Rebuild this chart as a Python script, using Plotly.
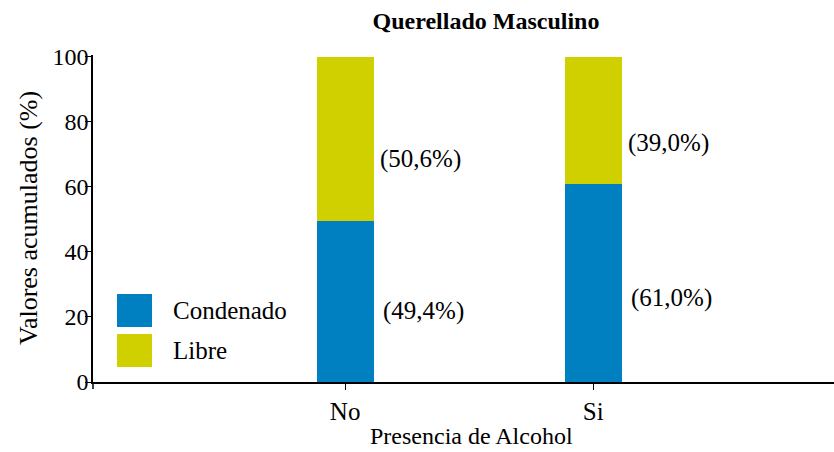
import plotly.graph_objects as go

categories = ["No", "Si"]
condenado = [49.4, 61.0]
libre = [50.6, 39.0]
condenado_labels = ["(49,4%)", "(61,0%)"]
libre_labels = ["(50,6%)", "(39,0%)"]
condenado_label_y = [21.7, 25.7]
libre_label_y = [68.5, 73.4]
y_ticks = [0, 20, 40, 60, 80, 100]

BLUE = "rgb(0,128,192)"
YELLOW = "rgb(208,207,0)"
FONT = "Liberation Serif"

W, H = 834, 452
ML, MR, MT, MB = 93, 0, 55, 70
PW, PH = W - ML - MR, H - MT - MB

fig = go.Figure()
fig.add_trace(go.Bar(x=[0, 1], y=condenado, name="Condenado", marker=dict(color=BLUE, line=dict(width=0)), width=0.23))
fig.add_trace(go.Bar(x=[0, 1], y=libre, name="Libre", marker=dict(color=YELLOW, line=dict(width=0)), width=0.23))

for i in range(len(categories)):
    fig.add_annotation(x=i, y=libre_label_y[i], text=libre_labels[i], xref="x", yref="y",
                       xanchor="left", yanchor="middle", xshift=33, showarrow=False,
                       font=dict(family=FONT, size=25, color="black"))
    fig.add_annotation(x=i, y=condenado_label_y[i], text=condenado_labels[i], xref="x", yref="y",
                       xanchor="left", yanchor="middle", xshift=36, showarrow=False,
                       font=dict(family=FONT, size=25, color="black"))

def px_x(p):
    return (p - ML) / PW
def px_y(p):
    return (MT + PH - p) / PH

# legend drawn manually
legend_items = [("Condenado", BLUE, 294, 327), ("Libre", YELLOW, 334, 367)]
for name, col, y0, y1 in legend_items:
    fig.add_shape(type="rect", xref="paper", yref="paper", x0=px_x(117), x1=px_x(152),
                  y0=px_y(y1), y1=px_y(y0), fillcolor=col, line=dict(width=0), layer="above")
    fig.add_annotation(x=px_x(171), y=px_y((y0 + y1) / 2), xref="paper", yref="paper", text=name,
                       xanchor="left", yanchor="middle", showarrow=False,
                       font=dict(family=FONT, size=25, color="black"))

# axis titles
fig.add_annotation(x=px_x(28), y=px_y(218), xref="paper", yref="paper", text="Valores acumulados (%)",
                   textangle=-90, xanchor="center", yanchor="middle", showarrow=False,
                   font=dict(family=FONT, size=26, color="black"))
fig.add_annotation(x=px_x(471), y=px_y(436), xref="paper", yref="paper", text="Presencia de Alcohol",
                   xanchor="center", yanchor="middle", showarrow=False,
                   font=dict(family=FONT, size=24, color="black"))

# small extension of the y axis line below zero
fig.add_shape(type="line", xref="paper", yref="paper", x0=0, x1=0, y0=0, y1=px_y(389),
              line=dict(color="black", width=1.5))

fig.update_layout(
    width=W, height=H,
    margin=dict(l=ML, r=MR, t=MT, b=MB),
    paper_bgcolor="white", plot_bgcolor="white",
    barmode="stack", showlegend=False,
    font=dict(family=FONT, size=25, color="black"),
    title=dict(text="<b>Querellado Masculino</b>", x=px_x(486), xref="paper", xanchor="center",
               y=1 - 21 / H, yanchor="middle", font=dict(family=FONT, size=24, color="black")),
    xaxis=dict(range=[-1.016, 1.97], tickmode="array", tickvals=[0, 1], ticktext=categories,
               showline=True, linecolor="black", linewidth=1.5, ticks="outside", ticklen=6,
               tickcolor="black", showgrid=False, zeroline=False,
               tickfont=dict(family=FONT, size=25)),
    yaxis=dict(range=[0, 100.5], tickmode="array", tickvals=y_ticks, ticktext=[str(v) for v in y_ticks],
               showline=True, linecolor="black", linewidth=1.5, ticks="outside", ticklen=6,
               tickcolor="black", showgrid=False, zeroline=False,
               tickfont=dict(family=FONT, size=24), ticklabelstandoff=-8),
)

fig.write_html("out.html", config={"displayModeBar": False},
               post_script="document.body.style.margin='0';")
